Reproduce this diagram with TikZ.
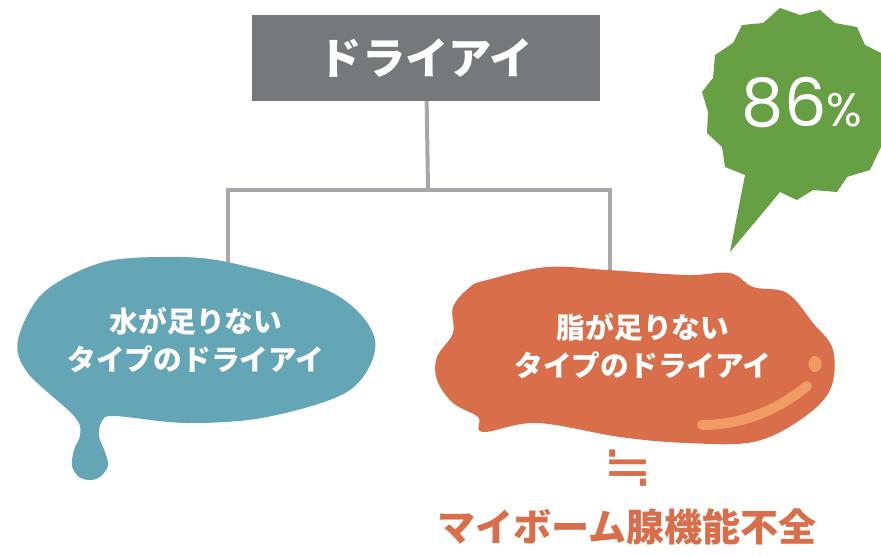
\documentclass[tikz,border=0pt]{standalone}
\usepackage{fontspec}
\usepackage{tikz}
\usetikzlibrary{positioning}
\newfontfamily\jp{Noto Sans CJK JP}
\newfontfamily\numfont{Poppins}
\newfontfamily\symfont{DejaVu Sans}
\definecolor{boxgray}{HTML}{77787B}
\definecolor{linegray}{HTML}{A7A8AB}
\definecolor{waterblue}{HTML}{64A5B6}
\definecolor{oilred}{HTML}{D86E4A}
\definecolor{shineorange}{HTML}{EF9B63}
\definecolor{burstgreen}{HTML}{67A044}
\tikzset{
x=0.03cm, y=-0.03cm, % one unit is one pixel of the reference
title/.style={fill=boxgray, text=white, minimum width=10.44cm, minimum height=2.58cm, font=\jp\bfseries\fontsize{37}{40}\selectfont}, % the grey head box
tree/.style={draw=linegray, line width=0.12cm}, % the branches
blobtext/.style={text=white, align=center, font=\jp\bfseries\fontsize{24.5}{32}\selectfont}, % text inside the blobs
result/.style={text=oilred, font=\jp\bfseries\fontsize{32.5}{34}\selectfont}, % text under the red blob
}
\begin{document}
\begin{tikzpicture}

            \clip (0,0) rectangle (881,556);
            \node[title] (title) at (426,58) {ドライアイ};
            \coordinate (fork) at (428,190);
            \coordinate (waterTop) at (228,270);
            \coordinate (oilTop) at (610,275);
            \draw[tree] (title) -- (fork);
            \draw[tree] (waterTop) |- (fork) -| (oilTop);

            % water blob with its drip
            \fill[waterblue] plot[smooth cycle, tension=0.55] coordinates {
                (163,257) (227,262) (333,293) (375,340) (350,390) (267,417) (187,423)
                (115,416) (102,421) (99,436) (105,452) (108,466) (100,477) (90,480)
                (79,477) (72,466) (74,450) (80,436) (79,423) (68,410)
                (27,372) (18,340) (43,293) (100,263)};
            \node[blobtext] (water) at (196,340) {水が足りない\\タイプのドライアイ};

            % oil blob
            \fill[oilred] plot[smooth cycle, tension=0.6] coordinates {
                (487,280) (547,267) (607,270) (687,275) (730,273) (753,287) (787,293)
                (813,323) (833,350) (830,390) (800,420) (753,442) (687,443) (620,437)
                (537,423) (483,432) (478,417) (453,403) (437,380) (437,357) (453,333)
                (453,307) (470,287)};
            \draw[shineorange, line width=0.3cm, line cap=round] (702,425) .. controls (745,425) and (780,408) .. (807,386);
            \fill[shineorange] (815,364) ellipse (6.5 and 8);
            \node[blobtext] (oil) at (643,346) {脂が足りない\\タイプのドライアイ};

            % rate burst
            \fill[burstgreen] (780,8) -- (800,15) -- (820,10) -- (835,23) -- (857,27) -- (865,45)
                -- (881,53) -- (895,75) -- (890,100) -- (900,125) -- (881,147) -- (870,170)
                -- (847,177) -- (837,192) -- (813,190) -- (797,200) -- (780,192) -- (730,252)
                -- (745,175) -- (725,167) -- (722,147) -- (707,133) -- (708,112) -- (702,92)
                -- (713,78) -- (715,55) -- (733,43) -- (742,25) -- (763,23) -- cycle;
            \node[text=white, font=\numfont] (rate) at (802,103) {\fontsize{57}{60}\selectfont 86\fontsize{40}{44}\selectfont\%};

            \node[result, font=\symfont\fontsize{50}{52}\selectfont] (approx) at (628,468) {≒};
            \node[result] (meibom) at (627,527) {マイボーム腺機能不全};
        \end{tikzpicture}
\end{document}
